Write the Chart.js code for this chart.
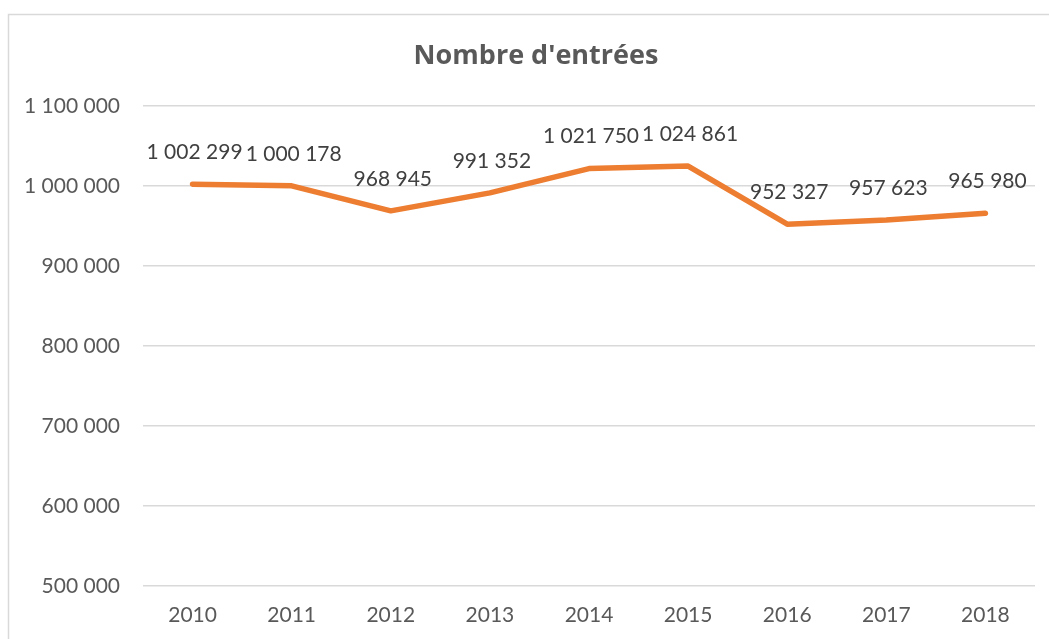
<!DOCTYPE html>
<html>
<head>
<meta charset="utf-8">
<script src="https://cdn.jsdelivr.net/npm/chart.js@4"></script>
<style>
  html, body { margin: 0; padding: 0; background: #fff; }
  #wrap { width: 1049px; height: 639px; }
</style>
</head>
<body>
<div id="wrap"><canvas id="entrees"></canvas></div>
<script>
const years = ['2010', '2011', '2012', '2013', '2014', '2015', '2016', '2017', '2018'];
const entrees = [1002299, 1000178, 968945, 991352, 1021750, 1024861, 952327, 957623, 965980];
const titleText = "Nombre d'entrées";

const fmt = v => String(v).replace(/\B(?=(\d{3})+(?!\d))/g, ' ');

// frame like the Excel chart area, plus the title centred on the frame
const framePlugin = {
    id: 'frame',
    beforeDraw(chart) {
        const ctx = chart.ctx;
        ctx.save();
        ctx.fillStyle = '#fff';
        ctx.fillRect(0, 0, chart.width, chart.height);
        ctx.strokeStyle = '#d9d9d9';
        ctx.lineWidth = 1.5;
        ctx.strokeRect(8.5, 14.5, 1200, 800);
        ctx.font = 'bold 27px "Open Sans"';
        ctx.fillStyle = '#595959';
        ctx.textAlign = 'center';
        ctx.textBaseline = 'middle';
        ctx.fillText(titleText, 536, 56);
        ctx.restore();
    }
};

// value labels above each point
const labelPlugin = {
    id: 'valueLabels',
    afterDatasetsDraw(chart) {
        const ctx = chart.ctx;
        const meta = chart.getDatasetMeta(0);
        ctx.save();
        ctx.font = '21px Lato';
        ctx.fillStyle = '#404040';
        ctx.textAlign = 'center';
        ctx.textBaseline = 'middle';
        meta.data.forEach((pt, i) => {
            ctx.fillText(fmt(entrees[i]), pt.x + 2, pt.y - 32);
        });
        ctx.restore();
    }
};

new Chart(document.getElementById('entrees'), {
    type: 'line',
    data: {
        labels: years,
        datasets: [{
            data: entrees,
            borderColor: '#ED7D31',
            borderWidth: 5.5,
            borderJoinStyle: 'round',
            borderCapStyle: 'round',
            pointRadius: 0,
            tension: 0,
            fill: false,
        }]
    },
    options: {
        responsive: true,
        maintainAspectRatio: false,
        animation: false,
        layout: { padding: { left: 0, right: 14, top: 106, bottom: 0 } },
        plugins: {
            legend: { display: false },
            tooltip: { enabled: false },
            title: { display: false }
        },
        scales: {
            x: {
                offset: true,
                grid: { display: false, drawTicks: false },
                border: { display: false },
                ticks: { color: '#595959', font: { family: 'Lato', size: 21 }, padding: 17 },
                afterFit: s => { s.height = 53; }
            },
            y: {
                min: 500000,
                max: 1100000,
                grid: { color: '#d9d9d9', lineWidth: 1.5, drawTicks: false },
                border: { display: false },
                ticks: {
                    stepSize: 100000,
                    color: '#595959',
                    font: { family: 'Lato', size: 21 },
                    padding: 23,
                    callback: v => fmt(v)
                },
                afterFit: s => { s.width = 143; }
            }
        }
    },
    plugins: [framePlugin, labelPlugin]
});
</script>
</body>
</html>
